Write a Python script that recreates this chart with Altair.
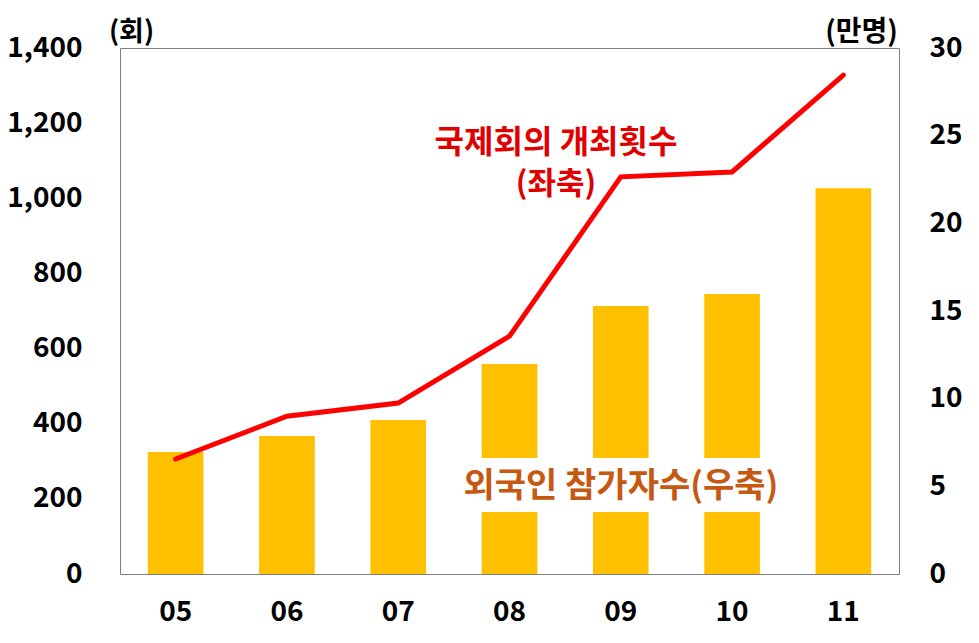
import altair as alt
import pandas as pd

years = ["05", "06", "07", "08", "09", "10", "11"]
meetings = [306, 420, 455, 633, 1057, 1070, 1328]          # 국제회의 개최횟수 (회, 좌축)
participants = [6.96, 7.87, 8.78, 11.98, 15.29, 15.97, 22.0]  # 외국인 참가자수 (만명, 우축)

left_ticks = [0, 200, 400, 600, 800, 1000, 1200, 1400]
right_ticks = [0, 5, 10, 15, 20, 25, 30]

df = pd.DataFrame({"year": years, "meetings": meetings, "participants": participants})

FONT = "Noto Sans CJK KR"
W, H = 779, 526

x = alt.X("year:N", sort=years,
          scale=alt.Scale(paddingInner=0.5, paddingOuter=0.25),
          axis=alt.Axis(title=None, labelAngle=0, ticks=False, domain=False,
                        labelFont=FONT, labelFontSize=28, labelFontWeight="bold",
                        labelColor="#000000", labelPadding=24))

bars = alt.Chart(df).mark_bar(color="#FFC000").encode(
    x=x,
    y=alt.Y("participants:Q",
            scale=alt.Scale(domain=[0, 30], nice=False),
            axis=alt.Axis(orient="right", values=right_ticks, grid=False, ticks=False,
                          domain=False, labelFont=FONT, labelFontSize=28,
                          labelFontWeight="bold", labelColor="#000000",
                          labelPadding=30, labelAlign="left",
                          title="(만명)", titleAngle=0, titleFont=FONT,
                          titleFontSize=28, titleFontWeight="bold", titleColor="#000000",
                          titleAlign="center", titleBaseline="bottom",
                          titleX=-38, titleY=-2)),
)

line = alt.Chart(df).mark_line(color="#FF0000", strokeWidth=5, strokeCap="round").encode(
    x=x,
    y=alt.Y("meetings:Q",
            scale=alt.Scale(domain=[0, 1400], nice=False),
            axis=alt.Axis(orient="left", values=left_ticks, format=",d", grid=False,
                          ticks=False, domain=False, labelFont=FONT, labelFontSize=28,
                          labelFontWeight="bold", labelColor="#000000", labelPadding=38,
                          title="(회)", titleAngle=0, titleFont=FONT,
                          titleFontSize=27, titleFontWeight="bold", titleColor="#000000",
                          titleAlign="center", titleBaseline="bottom",
                          titleX=11, titleY=-2)),
)

box = alt.Chart(df.head(1)).mark_rect(color="#FFFFFF").encode(
    x=alt.value(335), x2=alt.value(670), y=alt.value(410), y2=alt.value(464)
)

orange_text = alt.Chart(df.head(1)).mark_text(
    text="외국인 참가자수(우축)", font=FONT, fontSize=34, fontWeight="bold",
    color="#C65911", align="center", baseline="middle"
).encode(x=alt.value(501), y=alt.value(439))

red_text_1 = alt.Chart(df.head(1)).mark_text(
    text="국제회의 개최횟수", font=FONT, fontSize=32, fontWeight="bold",
    color="#E00000", align="center", baseline="middle"
).encode(x=alt.value(436), y=alt.value(95))

red_text_2 = alt.Chart(df.head(1)).mark_text(
    text="(좌축)", font=FONT, fontSize=31, fontWeight="bold",
    color="#E00000", align="center", baseline="middle"
).encode(x=alt.value(436), y=alt.value(137))

chart = alt.layer(bars, box, line, orange_text, red_text_1, red_text_2).resolve_scale(
    y="independent"
).properties(
    width=W, height=H,
    autosize=alt.AutoSizeParams(type="none"),
    padding={"left": 120, "top": 48, "right": 80, "bottom": 69},
    background="#FFFFFF",
).configure_view(stroke="#808080", strokeWidth=1)

chart.save("out.html", embed_options={"renderer": "svg", "actions": False})
